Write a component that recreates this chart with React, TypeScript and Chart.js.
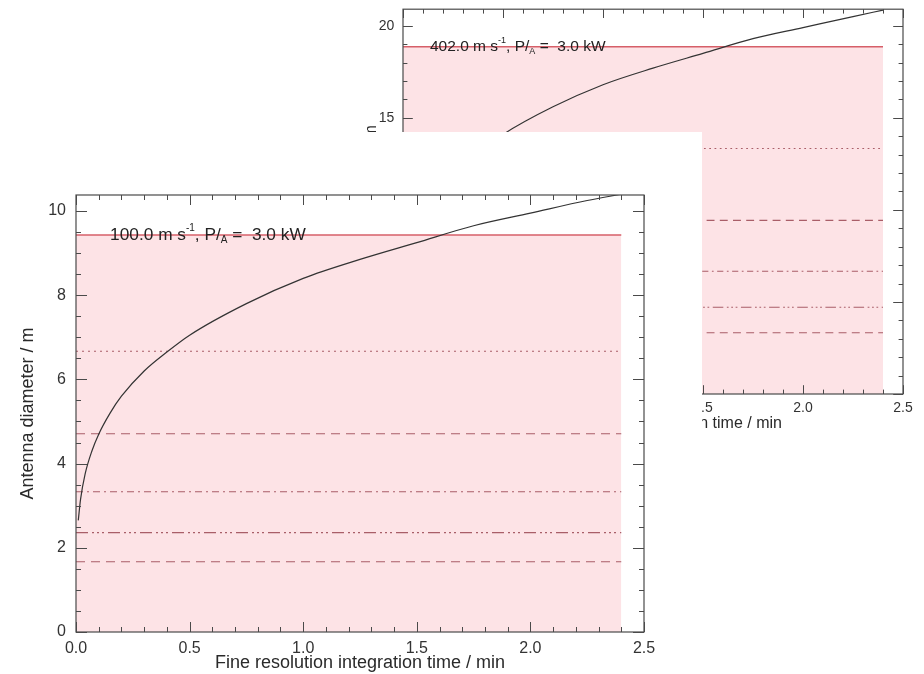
import React, { useEffect, useRef } from "react";
import { Chart, registerables } from "chart.js";

Chart.register(...registerables);

// ---------- data ----------
const curveTimes = [0.01, 0.02, 0.04, 0.07, 0.1, 0.15, 0.2, 0.3, 0.4, 0.5, 0.75, 1.0, 1.25, 1.5, 1.75, 2.0, 2.25, 2.4];
const frontDiameter = [2.65, 3.15, 3.75, 4.3, 4.7, 5.2, 5.6, 6.2, 6.65, 7.05, 7.8, 8.4, 8.85, 9.25, 9.65, 9.95, 10.25, 10.4];
const backDiameter = [5.3, 6.3, 7.5, 8.6, 9.4, 10.4, 11.2, 12.4, 13.3, 14.1, 15.6, 16.8, 17.7, 18.5, 19.3, 19.9, 20.5, 20.85];

const frontLevels = [9.43, 6.67, 4.71, 3.33, 2.36, 1.67];
const backLevels = [18.86, 13.33, 9.43, 6.67, 4.71, 3.33];
const bandStart = 0;
const bandEnd = 2.4;

const xTickValues = [0, 0.5, 1.0, 1.5, 2.0, 2.5];
const frontYTicks = [0, 2, 4, 6, 8, 10];
const backYTicks = [0, 5, 10, 15, 20];

const frontSpeed = "100.0";
const backSpeed = "402.0";
const powerText = "3.0 kW";

const xTitle = "Fine resolution integration time / min";
const yTitle = "Antenna diameter / m";

// ---------- styles ----------
const levelDashes: number[][] = [[], [2, 4], [9, 6], [7, 4, 2, 4], [12, 4, 2, 3, 2, 3, 2, 4], [9, 6]];
const FONT = "'Liberation Sans', Arial, Helvetica, sans-serif";

type PanelOpts = {
  padTop: number;
  padRight: number;
  yWidth: number;
  xHeight: number;
  yMax: number;
  yTicks: number[];
  yMinor: number;
  curve: number[];
  levels: number[];
  speed: string;
  tickFont: number;
  titleFont: number;
  noteFont: number;
  xTitleY: number;
  yTitleX: number;
  textX: number;
  s: number;
};

function buildChart(canvas: HTMLCanvasElement, o: PanelOpts) {
  const s = o.s;
  const datasets: any[] = [];
  datasets.push({
    label: "curve",
    data: curveTimes.map((t, i) => ({ x: t, y: o.curve[i] })),
    borderColor: "#333333",
    borderWidth: 1.2,
    pointRadius: 0,
    cubicInterpolationMode: "monotone",
    fill: false,
  });
  for (let i = o.levels.length - 1; i >= 1; i--) {
    datasets.push({
      label: "level" + i,
      data: [
        { x: bandStart, y: o.levels[i] },
        { x: bandEnd, y: o.levels[i] },
      ],
      borderColor: "#a95e68",
      borderWidth: 1.1,
      borderDash: levelDashes[i].map((d) => d * s),
      pointRadius: 0,
      fill: false,
    });
  }
  datasets.push({
    label: "band",
    data: [
      { x: bandStart, y: o.levels[0] },
      { x: bandEnd, y: o.levels[0] },
    ],
    borderColor: "#d65f68",
    borderWidth: 1.4,
    backgroundColor: "#fde3e6",
    pointRadius: 0,
    fill: "origin",
  });

  const frame = {
    id: "frameTicks",
    afterDatasetsDraw(chart: any) {
      const { ctx, chartArea: a, scales } = chart;
      const x = scales.x;
      const y = scales.y;
      ctx.save();
      ctx.strokeStyle = "#4a4a4a";
      ctx.lineWidth = 1.2;
      ctx.strokeRect(a.left, a.top, a.right - a.left, a.bottom - a.top);
      ctx.lineWidth = 1;
      const seg = (x1: number, y1: number, x2: number, y2: number) => {
        ctx.beginPath();
        ctx.moveTo(x1, y1);
        ctx.lineTo(x2, y2);
        ctx.stroke();
      };
      const major = 10 * s;
      const minor = 5 * s;
      for (let k = 0; k <= 25; k++) {
        const v = k / 10;
        const len = k % 5 === 0 ? major : minor;
        const px = Math.round(x.getPixelForValue(v)) + 0.5;
        seg(px, a.bottom, px, a.bottom - len);
        seg(px, a.top, px, a.top + len);
      }
      const nMinor = Math.floor(o.yMax / o.yMinor + 1e-9);
      const ratio = Math.round((o.yTicks[1] - o.yTicks[0]) / o.yMinor);
      for (let k = 0; k <= nMinor; k++) {
        const v = k * o.yMinor;
        const len = k % ratio === 0 ? major + 1 : minor;
        const py = Math.round(y.getPixelForValue(v)) + 0.5;
        seg(a.left, py, a.left + len, py);
        seg(a.right, py, a.right - len, py);
      }

      // annotation text on the solid level line
      const tx = x.getPixelForValue(o.textX);
      const ty = y.getPixelForValue(o.levels[0]);
      ctx.fillStyle = "#222";
      ctx.textBaseline = "middle";
      ctx.textAlign = "left";
      const big = `${o.noteFont}px ${FONT}`;
      const small = `${Math.round(o.noteFont * 0.55)}px ${FONT}`;
      const parts: [string, string, number][] = [
        [o.speed + " m s", big, 0],
        ["-1", small, -o.noteFont * 0.38],
        [", P/", big, 0],
        ["A", small, o.noteFont * 0.3],
        [" =  " + powerText, big, 0],
      ];
      let cx = tx;
      for (const [t, f, dy] of parts) {
        ctx.font = f;
        ctx.fillText(t, cx, ty + dy);
        cx += ctx.measureText(t).width;
      }

      // axis titles
      ctx.fillStyle = "#2a2a2a";
      ctx.font = `${o.titleFont}px ${FONT}`;
      ctx.textAlign = "center";
      ctx.textBaseline = "middle";
      ctx.fillText(xTitle, (a.left + a.right) / 2, o.xTitleY);
      ctx.translate(o.yTitleX, (a.top + a.bottom) / 2);
      ctx.rotate(-Math.PI / 2);
      ctx.fillText(yTitle, 0, 0);
      ctx.restore();
    },
  };

  return new Chart(canvas, {
    type: "line",
    data: { datasets },
    options: {
      animation: false,
      responsive: false,
      maintainAspectRatio: false,
      devicePixelRatio: 1,
      layout: { padding: { top: o.padTop, right: o.padRight, left: 0, bottom: 0 } },
      plugins: { legend: { display: false }, tooltip: { enabled: false }, title: { display: false } },
      scales: {
        x: {
          type: "linear",
          min: 0,
          max: 2.5,
          grid: { display: false, drawTicks: false },
          border: { display: false },
          afterBuildTicks: (axis: any) => {
            axis.ticks = xTickValues.map((v) => ({ value: v }));
          },
          afterFit: (axis: any) => {
            axis.height = o.xHeight;
          },
          ticks: {
            autoSkip: false,
            maxRotation: 0,
            padding: 7 * s,
            color: "#333",
            font: { family: FONT, size: o.tickFont },
            callback: (v: any) => Number(v).toFixed(1),
          },
        },
        y: {
          type: "linear",
          min: 0,
          max: o.yMax,
          grid: { display: false, drawTicks: false },
          border: { display: false },
          afterBuildTicks: (axis: any) => {
            axis.ticks = o.yTicks.map((v) => ({ value: v }));
          },
          afterFit: (axis: any) => {
            axis.width = o.yWidth;
          },
          ticks: {
            padding: 10 * s,
            color: "#333",
            font: { family: FONT, size: o.tickFont },
            callback: (v: any) => String(v),
          },
        },
      },
    },
    plugins: [frame],
  } as any);
}

export default function App() {
  const backRef = useRef<HTMLCanvasElement>(null);
  const frontRef = useRef<HTMLCanvasElement>(null);

  useEffect(() => {
    const back = buildChart(backRef.current!, {
      padTop: 9,
      padRight: 21,
      yWidth: 73,
      xHeight: 46,
      yMax: 20.9,
      yTicks: backYTicks,
      yMinor: 1,
      curve: backDiameter,
      levels: backLevels,
      speed: backSpeed,
      tickFont: 14,
      titleFont: 16,
      noteFont: 15.5,
      xTitleY: 432,
      yTitleX: 42,
      textX: 0.135,
      s: 0.88,
    });
    const front = buildChart(frontRef.current!, {
      padTop: 63,
      padRight: 58,
      yWidth: 76,
      xHeight: 42,
      yMax: 10.38,
      yTicks: frontYTicks,
      yMinor: 0.5,
      curve: frontDiameter,
      levels: frontLevels,
      speed: frontSpeed,
      tickFont: 16,
      titleFont: 18,
      noteFont: 17.3,
      xTitleY: 531,
      yTitleX: 28,
      textX: 0.15,
      s: 1,
    });
    return () => {
      back.destroy();
      front.destroy();
    };
  }, []);

  return (
    <div style={{ position: "absolute", left: 0, top: 0, width: 924, height: 674, background: "#fff", overflow: "hidden" }}>
      <canvas ref={backRef} width={594} height={448} style={{ position: "absolute", left: 330, top: -8, width: 594, height: 448 }} />
      <canvas ref={frontRef} width={702} height={542} style={{ position: "absolute", left: 0, top: 132, width: 702, height: 542, background: "#fff" }} />
    </div>
  );
}
